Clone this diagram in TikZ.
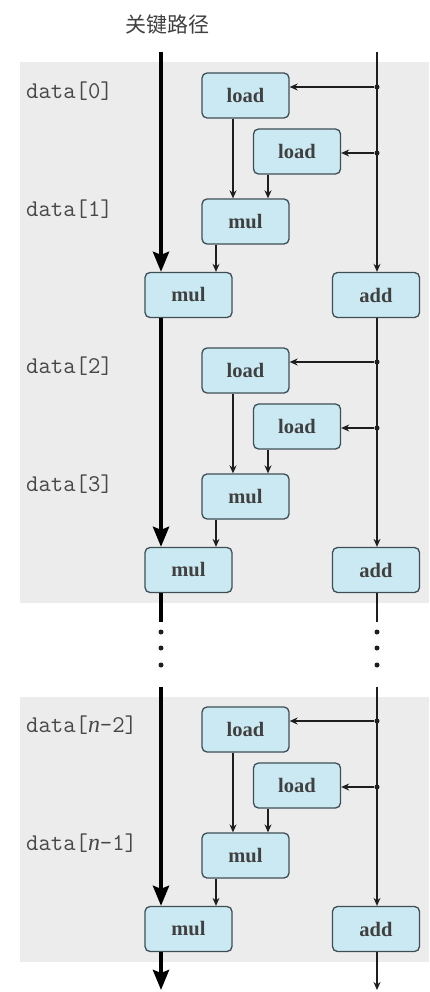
\documentclass[tikz,border=0pt]{standalone}
\usepackage{fontspec}
\setmainfont{Liberation Serif}
\newfontfamily\cjkfont{Noto Sans CJK SC}
\usetikzlibrary{arrows.meta}
\definecolor{boxfill}{HTML}{CBE9F2}
\definecolor{boxedge}{HTML}{3E4E54}
\definecolor{panel}{HTML}{ECECEC}
\definecolor{ink}{HTML}{1E1E1E}
\definecolor{labelgray}{HTML}{474747}
\newcommand{\nvar}{{\rmfamily\itshape n}}
\tikzset{
  op/.style={draw=boxedge, fill=boxfill, line width=1.3pt, rounded corners=5pt,
    minimum width=87pt, minimum height=45pt, inner sep=0pt,
    font=\bfseries\fontsize{20.5}{20.5}\selectfont, text=ink!85},
  flow/.style={draw=ink, line width=1.2pt, -{Stealth[length=8pt,width=7pt]}},
  flowplain/.style={draw=ink, line width=1.2pt},
  crit/.style={draw=black, line width=4pt, -{Stealth[length=20pt,width=16pt,inset=3pt]}},
  critplain/.style={draw=black, line width=4pt},
  datalabel/.style={anchor=west, inner sep=0pt,
    font=\ttfamily\fontsize{24}{24}\selectfont, text=labelgray},
  tap/.style={circle, fill=ink, inner sep=0pt, minimum size=5pt},
}
\begin{document}
\begin{tikzpicture}[x=1pt,y=-1pt]
  \useasboundingbox (0,0) rectangle (429,992);
  % shaded panels behind the iterations
  \fill[panel] (20,62) rectangle (429,603);
  \fill[panel] (20,697) rectangle (429,962);

  \node[font=\cjkfont\fontsize{21}{21}\selectfont, text=ink!85] (title) at (167,25) {关键路径};

  % one unrolled iteration pair per block
  \foreach \b/\o/\da/\db in {1/0/data[0]/data[1], 2/275/data[2]/data[3],
      3/634/data[\nvar-2]/data[\nvar-1]} {
    \node[datalabel] (da\b) at (26,91+\o) {\da};
    \node[datalabel] (db\b) at (26,209+\o) {\db};
    \node[op] (la\b) at (245.5,95.5+\o) {load};
    \node[op] (lb\b) at (297,151.5+\o) {load};
    \node[op] (mi\b) at (245.5,221.5+\o) {mul};
    \node[op] (mo\b) at (188.5,295+\o) {mul};
    \node[op] (ad\b) at (376,295+\o) {add};
    \node[tap] (ta\b) at (377,87+\o) {};
    \node[tap] (tb\b) at (377,153+\o) {};
    \draw[flow] (ta\b) -- (ta\b -| la\b.east);
    \draw[flow] (tb\b) -- (tb\b -| lb\b.east);
    \draw[flow] ([xshift=-12.5pt]la\b.south) -- ([xshift=-12.5pt]la\b.south |- mi\b.north);
    \draw[flow] ([xshift=-29pt]lb\b.south) -- ([xshift=-29pt]lb\b.south |- mi\b.north);
    \draw[flow] ([xshift=-29.5pt]mi\b.south) -- ([xshift=-29.5pt]mi\b.south |- mo\b.north);
  }

  % critical path (thick) and accumulator chain (thin)
  \coordinate (ctop) at (161,52);
  \coordinate (atop) at (377,52);
  \coordinate (cgap) at (161,622);
  \coordinate (agap) at (377,622);
  \coordinate (cres) at (161,687);
  \coordinate (ares) at (377,687);
  \coordinate (cend) at (161,990);
  \coordinate (aend) at (377,990);

  \draw[crit] (ctop) -- (ctop |- mo1.north);
  \draw[crit] (ctop |- mo1.south) -- (ctop |- mo2.north);
  \draw[critplain] (ctop |- mo2.south) -- (cgap);
  \draw[crit] (cres) -- (cres |- mo3.north);
  \draw[crit] (cres |- mo3.south) -- (cend);

  \draw[flow] (atop) -- (atop |- ad1.north);
  \draw[flow] (atop |- ad1.south) -- (atop |- ad2.north);
  \draw[flowplain] (atop |- ad2.south) -- (agap);
  \draw[flow] (ares) -- (ares |- ad3.north);
  \draw[flow] (ares |- ad3.south) -- (aend);

  % elided iterations
  \foreach \k/\y in {1/632, 2/648, 3/665} {
    \node[tap] (cd\k) at (161,\y) {};
    \node[tap] (ad\k dot) at (377,\y) {};
  }
\end{tikzpicture}
\end{document}
